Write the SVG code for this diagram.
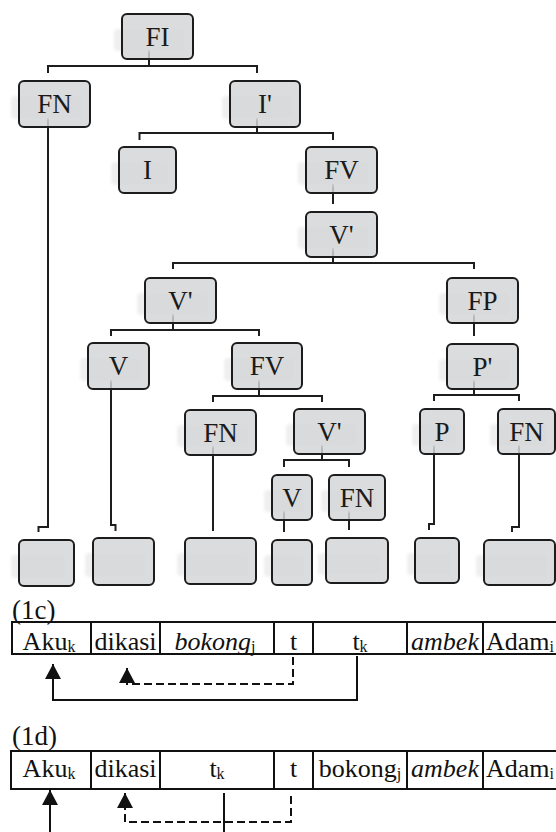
<svg xmlns="http://www.w3.org/2000/svg" width="556" height="832" viewBox="0 0 556 832">
  <defs>
    <filter id="soft" x="-20%" y="-40%" width="140%" height="180%">
      <feGaussianBlur stdDeviation="1.5"/>
    </filter>
    <marker id="arrow" viewBox="0 0 15 16" refX="15" refY="8" markerWidth="15" markerHeight="16" markerUnits="userSpaceOnUse" orient="auto">
      <path d="M0,0 L15,8 L0,16 z" fill="#111"/>
    </marker>
    <style>
      .sh { fill: #efefef; filter: url(#soft); }
      .box { fill: #d4d5d7; fill-opacity: 0.84; stroke: #1c1c1c; stroke-width: 2; }
      .lbl { font-family: "Liberation Serif", "Times New Roman", serif; font-size: 27px; fill: #1a1a1a; text-anchor: middle; }
      .wire { fill: none; stroke: #1e1e1e; stroke-width: 2; }
      .cell { font-family: "Liberation Serif", "Times New Roman", serif; font-size: 26px; fill: #111; text-anchor: middle; }
      .sub { font-size: 16px; }
      .it { font-style: italic; }
      .num { font-family: "Liberation Serif", "Times New Roman", serif; font-size: 27px; fill: #111; }
      .grid { fill: none; stroke: #111; stroke-width: 2; }
      .link { fill: none; stroke: #111; stroke-width: 2; }
      .dash { stroke-dasharray: 8 4; }
    </style>
  </defs>
  <rect width="556" height="832" fill="#fff"/>

  <!-- tree branches -->
  <g id="connectors">
    <path class="wire" d="M149,50 V66 M48,73 V66 H257 V73"/>
    <path class="wire" d="M48,118 V527 H38.5 V532"/>
    <path class="wire" d="M257,118 V133 M139.5,140 V133 H333 V140"/>
    <path class="wire" d="M333,184 V204"/>
    <path class="wire" d="M333,248 V263 M173,269 V263 H474 V269"/>
    <path class="wire" d="M173,314 V330 M111,336 V330 H259 V336"/>
    <path class="wire" d="M474,314 V336"/>
    <path class="wire" d="M111,380 V525 H115.5 V531"/>
    <path class="wire" d="M259,380 V396 M213,402 V396 H322 V402"/>
    <path class="wire" d="M474,380 V395 M434,401 V395 H519 V401"/>
    <path class="wire" d="M213,446 V531"/>
    <path class="wire" d="M322,445 V460 M284,467 V460 H349 V467"/>
    <path class="wire" d="M434,445 V524 H429 V530"/>
    <path class="wire" d="M519,445 V527 H512 V532"/>
    <path class="wire" d="M284,511 V532"/>
    <path class="wire" d="M349,511 V530"/>
  </g>

  <!-- tree nodes -->
  <g id="n-FI"><rect class="sh" x="114" y="29" width="71" height="22" rx="4"/><rect class="box" x="122" y="14" width="71" height="45" rx="5"/><text class="lbl" x="157.5" y="45.5">FI</text></g>
  <g id="n-FN1"><rect class="sh" x="11" y="96" width="71" height="23" rx="4"/><rect class="box" x="19" y="81" width="71" height="46" rx="5"/><text class="lbl" x="54.5" y="113">FN</text></g>
  <g id="n-Ibar"><rect class="sh" x="222" y="96" width="70" height="23" rx="4"/><rect class="box" x="230" y="81" width="70" height="46" rx="5"/><text class="lbl" x="265" y="113">I'</text></g>
  <g id="n-I"><rect class="sh" x="111" y="162" width="57" height="23" rx="4"/><rect class="box" x="119" y="147" width="57" height="46" rx="5"/><text class="lbl" x="147.5" y="179">I</text></g>
  <g id="n-FV1"><rect class="sh" x="298" y="162" width="71" height="23" rx="4"/><rect class="box" x="306" y="147" width="71" height="46" rx="5"/><text class="lbl" x="341.5" y="179">FV</text></g>
  <g id="n-Vbar1"><rect class="sh" x="298" y="227" width="71" height="22" rx="4"/><rect class="box" x="306" y="212" width="71" height="45" rx="5"/><text class="lbl" x="341.5" y="243.5">V'</text></g>
  <g id="n-Vbar2"><rect class="sh" x="137" y="293" width="71" height="22" rx="4"/><rect class="box" x="145" y="278" width="71" height="45" rx="5"/><text class="lbl" x="180.5" y="309.5">V'</text></g>
  <g id="n-FP"><rect class="sh" x="439" y="293" width="71" height="22" rx="4"/><rect class="box" x="447" y="278" width="71" height="45" rx="5"/><text class="lbl" x="482.5" y="309.5">FP</text></g>
  <g id="n-V1"><rect class="sh" x="80" y="358" width="61" height="23" rx="4"/><rect class="box" x="88" y="343" width="61" height="46" rx="5"/><text class="lbl" x="118.5" y="375">V</text></g>
  <g id="n-FV2"><rect class="sh" x="224" y="358" width="70" height="23" rx="4"/><rect class="box" x="232" y="343" width="70" height="46" rx="5"/><text class="lbl" x="267" y="375">FV</text></g>
  <g id="n-Pbar"><rect class="sh" x="439" y="359" width="71" height="22" rx="4"/><rect class="box" x="447" y="344" width="71" height="45" rx="5"/><text class="lbl" x="482.5" y="375.5">P'</text></g>
  <g id="n-FN2"><rect class="sh" x="177" y="425" width="71" height="22" rx="4"/><rect class="box" x="185" y="410" width="71" height="45" rx="5"/><text class="lbl" x="220.5" y="441.5">FN</text></g>
  <g id="n-Vbar3"><rect class="sh" x="286" y="424" width="71" height="22" rx="4"/><rect class="box" x="294" y="409" width="71" height="45" rx="5"/><text class="lbl" x="329.5" y="440.5">V'</text></g>
  <g id="n-P"><rect class="sh" x="412" y="424" width="44" height="22" rx="4"/><rect class="box" x="420" y="409" width="44" height="45" rx="5"/><text class="lbl" x="442" y="440.5">P</text></g>
  <g id="n-FN3"><rect class="sh" x="490" y="424" width="57" height="22" rx="4"/><rect class="box" x="498" y="409" width="57" height="45" rx="5"/><text class="lbl" x="526.5" y="440.5">FN</text></g>
  <g id="n-V2"><rect class="sh" x="264" y="490" width="40" height="22" rx="4"/><rect class="box" x="272" y="475" width="40" height="45" rx="5"/><text class="lbl" x="292" y="506.5">V</text></g>
  <g id="n-FN4"><rect class="sh" x="321" y="490" width="56" height="22" rx="4"/><rect class="box" x="329" y="475" width="56" height="45" rx="5"/><text class="lbl" x="357" y="506.5">FN</text></g>

  <!-- empty leaves -->
  <g id="leaf1"><rect class="sh" x="11" y="555" width="55" height="23" rx="4"/><rect class="box" x="19" y="540" width="55" height="46" rx="5"/></g>
  <g id="leaf2"><rect class="sh" x="85" y="553" width="61" height="24" rx="4"/><rect class="box" x="93" y="538" width="61" height="47" rx="5"/></g>
  <g id="leaf3"><rect class="sh" x="177" y="553" width="71" height="23" rx="4"/><rect class="box" x="185" y="538" width="71" height="46" rx="5"/></g>
  <g id="leaf4"><rect class="sh" x="264" y="555" width="40" height="22" rx="4"/><rect class="box" x="272" y="540" width="40" height="45" rx="5"/></g>
  <g id="leaf5"><rect class="sh" x="318" y="553" width="62" height="22" rx="4"/><rect class="box" x="326" y="538" width="62" height="45" rx="5"/></g>
  <g id="leaf6"><rect class="sh" x="407" y="553" width="44" height="22" rx="4"/><rect class="box" x="415" y="538" width="44" height="45" rx="5"/></g>
  <g id="leaf7"><rect class="sh" x="476" y="555" width="71" height="22" rx="4"/><rect class="box" x="484" y="540" width="71" height="45" rx="5"/></g>

  <!-- (1c) -->
  <g id="ex-1c">
    <text class="num" x="12" y="619">(1c)</text>
    <rect class="grid" x="12" y="622" width="560" height="32"/>
    <path class="grid" d="M91,622 V654 M160,622 V654 M274,622 V654 M313,622 V654 M407,622 V654 M483,622 V654"/>
    <text class="cell" x="49" y="650">Aku<tspan class="sub" dy="2">k</tspan></text>
    <text class="cell" x="125.5" y="650">dikasi</text>
    <text class="cell" x="215" y="650"><tspan class="it">bokong</tspan><tspan class="sub" dy="2">j</tspan></text>
    <text class="cell" x="293.5" y="650">t</text>
    <text class="cell" x="360" y="650">t<tspan class="sub" dy="2">k</tspan></text>
    <text class="cell it" x="445" y="650">ambek</text>
    <text class="cell" x="486" y="650" style="text-anchor:start">Adam<tspan class="sub" dy="2">i</tspan></text>
  </g>
  <g id="links-1c">
    <path class="link" d="M357,656 V700 H53 V664" marker-end="url(#arrow)"/>
    <path class="link dash" d="M293,657 V684 H127 V668" marker-end="url(#arrow)"/>
  </g>

  <!-- (1d) -->
  <g id="ex-1d">
    <text class="num" x="12" y="745">(1d)</text>
    <rect class="grid" x="11" y="751" width="560" height="38"/>
    <path class="grid" d="M91,751 V789 M160,751 V789 M274,751 V789 M313,751 V789 M407,751 V789 M483,751 V789"/>
    <text class="cell" x="49" y="777">Aku<tspan class="sub" dy="2">k</tspan></text>
    <text class="cell" x="125.5" y="777">dikasi</text>
    <text class="cell" x="217" y="777">t<tspan class="sub" dy="2">k</tspan></text>
    <text class="cell" x="293.5" y="777">t</text>
    <text class="cell" x="360" y="777">bokong<tspan class="sub" dy="2">j</tspan></text>
    <text class="cell it" x="445" y="777">ambek</text>
    <text class="cell" x="486" y="777" style="text-anchor:start">Adam<tspan class="sub" dy="2">i</tspan></text>
  </g>
  <g id="links-1d">
    <path class="link" d="M50,832 V790" marker-end="url(#arrow)"/>
    <path class="link" d="M224,793 V832"/>
    <path class="link dash" d="M291,796 V822 H125 V793" marker-end="url(#arrow)"/>
  </g>
</svg>
